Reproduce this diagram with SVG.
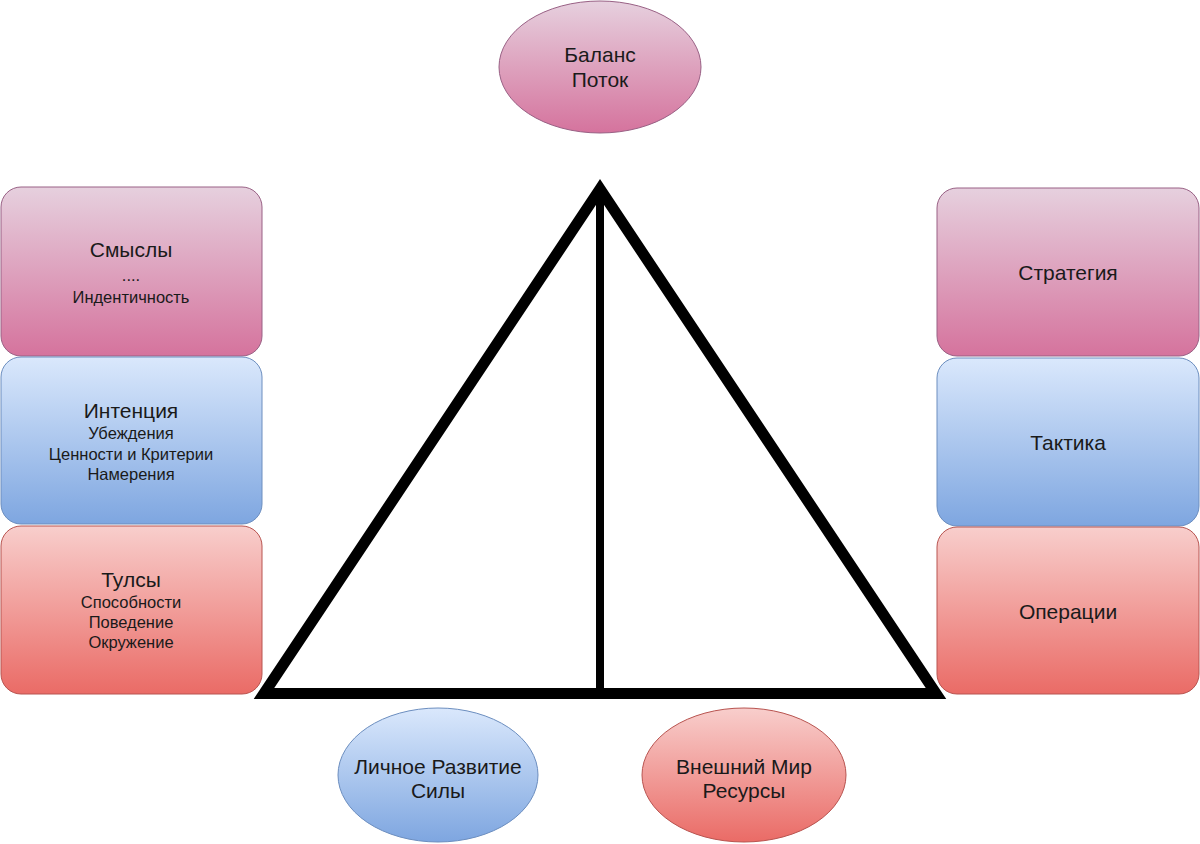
<svg xmlns="http://www.w3.org/2000/svg" width="1200" height="844" viewBox="0 0 1200 844">
  <style>
    text { font-family: "Liberation Sans", Arial, sans-serif; fill: #1a1a1a; text-anchor: middle; }
    .t { font-size: 21px; }
    .s { font-size: 16.5px; }
    .b { font-size: 21px; }
    .pink { fill: url(#gPink); stroke: #996185; stroke-width: 1; }
    .blue { fill: url(#gBlue); stroke: #6c8ebf; stroke-width: 1; }
    .red { fill: url(#gRed); stroke: #b85450; stroke-width: 1; }
  </style>
  <defs>
    <linearGradient id="gPink" x1="0" y1="0" x2="0" y2="1">
      <stop offset="0" stop-color="#e6d0de"/>
      <stop offset="1" stop-color="#d5739d"/>
    </linearGradient>
    <linearGradient id="gBlue" x1="0" y1="0" x2="0" y2="1">
      <stop offset="0" stop-color="#dae8fc"/>
      <stop offset="1" stop-color="#7ea6e0"/>
    </linearGradient>
    <linearGradient id="gRed" x1="0" y1="0" x2="0" y2="1">
      <stop offset="0" stop-color="#f8cecc"/>
      <stop offset="1" stop-color="#ea6b66"/>
    </linearGradient>
  </defs>
  <rect width="1200" height="844" fill="#ffffff"/>

  <g id="connectors">
    <polygon points="600,189 264,693.5 936,693.5" fill="#ffffff" stroke="#000000" stroke-width="11" stroke-linejoin="miter" stroke-miterlimit="10"/>
    <line x1="600" y1="189" x2="600" y2="690" stroke="#000000" stroke-width="8"/>
  </g>

  <g id="node-balance">
    <ellipse class="pink" cx="600" cy="67" rx="101" ry="66"/>
    <text class="t" x="600" y="62">Баланс</text>
    <text class="t" x="600" y="87">Поток</text>
  </g>

  <g id="node-smysly">
    <rect class="pink" x="1" y="187" width="261" height="169" rx="20" ry="20"/>
    <text class="t" x="131" y="257">Смыслы</text>
    <text class="s" x="131" y="281">....</text>
    <text class="s" x="131" y="303">Индентичность</text>
  </g>

  <g id="node-intention">
    <rect class="blue" x="1" y="357" width="261" height="167" rx="20" ry="20"/>
    <text class="t" x="131" y="418">Интенция</text>
    <text class="s" x="131" y="439">Убеждения</text>
    <text class="s" x="131" y="460">Ценности и Критерии</text>
    <text class="s" x="131" y="480">Намерения</text>
  </g>

  <g id="node-tools">
    <rect class="red" x="1" y="526" width="261" height="168" rx="20" ry="20"/>
    <text class="t" x="131" y="587">Тулсы</text>
    <text class="s" x="131" y="608">Способности</text>
    <text class="s" x="131" y="628">Поведение</text>
    <text class="s" x="131" y="648">Окружение</text>
  </g>

  <g id="node-strategy">
    <rect class="pink" x="937" y="188" width="262" height="168" rx="20" ry="20"/>
    <text class="t" x="1068" y="280">Стратегия</text>
  </g>

  <g id="node-tactics">
    <rect class="blue" x="937" y="358" width="262" height="168" rx="20" ry="20"/>
    <text class="t" x="1068" y="450">Тактика</text>
  </g>

  <g id="node-operations">
    <rect class="red" x="937" y="527" width="262" height="167" rx="20" ry="20"/>
    <text class="t" x="1068" y="619">Операции</text>
  </g>

  <g id="node-personal">
    <ellipse class="blue" cx="438" cy="775" rx="100" ry="67"/>
    <text class="b" x="438" y="774">Личное Развитие</text>
    <text class="b" x="438" y="798">Силы</text>
  </g>

  <g id="node-world">
    <ellipse class="red" cx="744" cy="775" rx="102" ry="67"/>
    <text class="b" x="744" y="774">Внешний Мир</text>
    <text class="b" x="744" y="798">Ресурсы</text>
  </g>
</svg>
